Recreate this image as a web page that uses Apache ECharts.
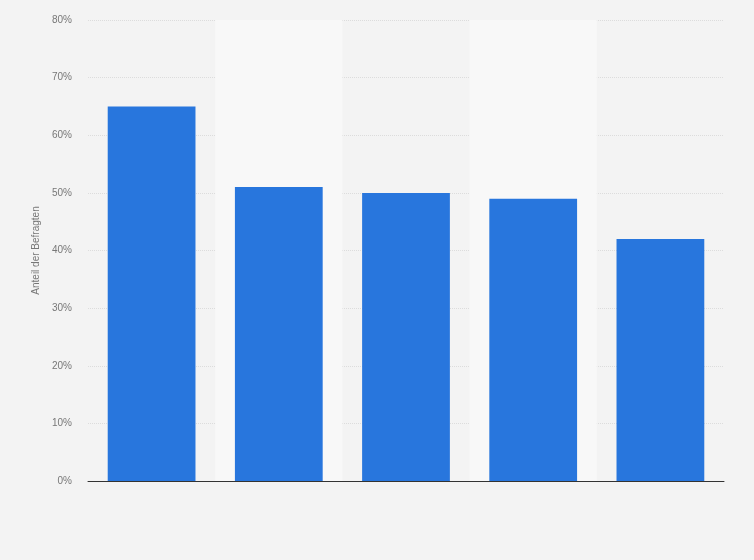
<!DOCTYPE html>
<html><head><meta charset="utf-8">
<script src="https://cdn.jsdelivr.net/npm/echarts@6/dist/echarts.min.js"></script>
<style>html,body{margin:0;padding:0;background:#f4f4f4}#c{width:754px;height:560px}</style>
</head><body><div id="c"></div>
<script>
const categories = ['A', 'B', 'C', 'D', 'E'];
const values = [65, 51, 50, 49, 42];
const yTicks = [0, 10, 20, 30, 40, 50, 60, 70, 80];

const chart = echarts.init(document.getElementById('c'), null, {renderer: 'canvas'});
chart.setOption({
  backgroundColor: '#f3f3f3',
  animation: false,
  grid: {left: 88, right: 30, top: 20, bottom: 79, containLabel: false},
  xAxis: {
    type: 'category', data: categories,
    axisLine: {show: true, lineStyle: {color: '#333', width: 1}},
    axisTick: {show: false},
    axisLabel: {show: false},
    splitArea: {show: true, areaStyle: {color: ['rgba(0,0,0,0)', '#f8f8f8']}}
  },
  yAxis: {
    type: 'value', min: yTicks[0], max: yTicks[yTicks.length - 1], interval: 10,
    name: 'Anteil der Befragten', nameLocation: 'middle', nameGap: 43, nameRotate: 90,
    nameTextStyle: {color: '#777', fontSize: 10, fontFamily: 'Arial, Liberation Sans, sans-serif'},
    axisLine: {show: false}, axisTick: {show: false},
    axisLabel: {formatter: '{value}%', color: '#777', fontSize: 10, margin: 16, fontFamily: 'Arial, Liberation Sans, sans-serif'},
    splitLine: {show: true, lineStyle: {color: '#dcdcdc', type: [1, 1], width: 1}}
  },
  series: [{
    type: 'bar', data: values, barCategoryGap: '31%',
    itemStyle: {color: '#2876dd'}
  }]
});
</script></body></html>
